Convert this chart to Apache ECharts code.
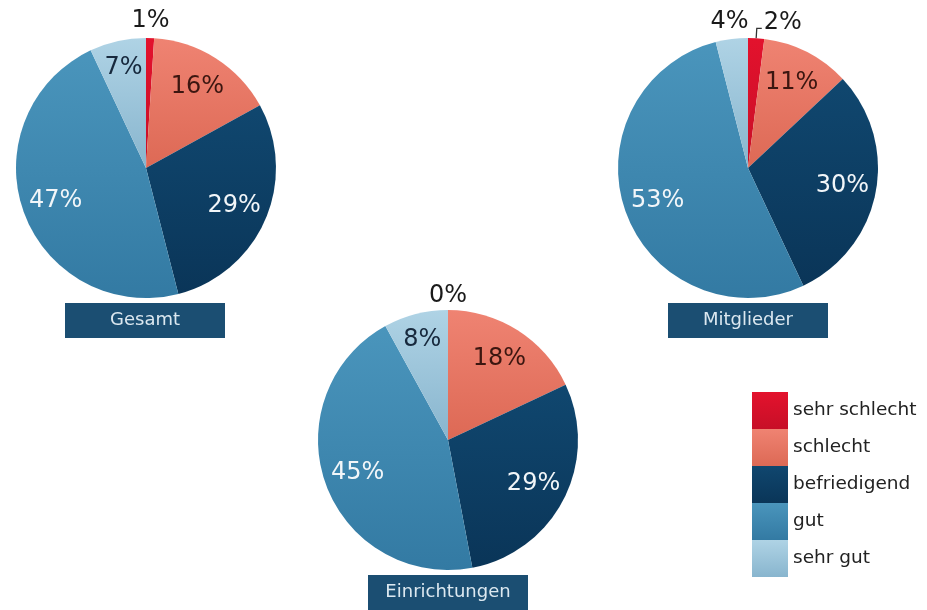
<!DOCTYPE html>
<html>
<head>
<meta charset="utf-8">
<script src="https://cdn.jsdelivr.net/npm/echarts@6/dist/echarts.min.js"></script>
<style>
html,body{margin:0;padding:0;background:#fff;}
#chart{width:927px;height:610px;}
</style>
</head>
<body>
<div id="chart"></div>
<script>
// ---- data ----
const categories = ['sehr schlecht', 'schlecht', 'befriedigend', 'gut', 'sehr gut'];
const gesamt = [1, 16, 29, 47, 7];
const mitglieder = [2, 11, 30, 53, 4];
const einrichtungen = [0, 18, 29, 45, 8];
const pieNames = ['Gesamt', 'Mitglieder', 'Einrichtungen'];

// ---- layout / style ----
const FONT = 'DejaVu Sans';
const R = 130;
const pies = [
  { values: gesamt,        center: [146, 168], title: [65, 303],  inner: [1, 2, 3], far: [4], outer: [0], leader: [], outerR: 158 },
  { values: mitglieder,    center: [748, 168], title: [668, 303], inner: [1, 2, 3], far: [],  outer: [4], leader: [0], outerR: 158 },
  { values: einrichtungen, center: [448, 440], title: [368, 575], inner: [1, 2, 3], far: [4], outer: [0], leader: [], outerR: 152 }
];
const gradStops = [
  ['#e3122d', '#c70f27'],
  ['#ef8372', '#dd6955'],
  ['#10476f', '#0a3558'],
  ['#4a95bc', '#337aa3'],
  ['#afd3e5', '#88b5ce']
];
const labelColors = ['#1a1a1a', '#3b1610', '#f2f6f9', '#f2f6f9', '#17293d'];
function grad(i) {
  return { type: 'linear', x: 0, y: 0, x2: 0, y2: 1,
    colorStops: [{ offset: 0, color: gradStops[i][0] }, { offset: 1, color: gradStops[i][1] }] };
}

const series = [];
// main pies
pies.forEach(p => {
  series.push({
    type: 'pie', center: p.center, radius: [0, R], startAngle: 90,
    animation: false, silent: true, avoidLabelOverlap: false,
    emphasis: { disabled: true },
    data: p.values.map((v, i) => {
      const isLeader = p.leader.includes(i);
      return {
        name: categories[i], value: v,
        itemStyle: { color: grad(i) },
        label: isLeader ? {
          show: true, position: 'outside', formatter: '{v|{c}%}\n{e| }',
          distanceToLabelLine: 2,
          rich: {
            v: { fontSize: 24, fontFamily: FONT, color: '#1a1a1a', lineHeight: 26 },
            e: { fontSize: 8, lineHeight: 12 }
          }
        } : { show: false },
        labelLine: isLeader ? { show: true, length: 10, length2: 5, smooth: false,
          lineStyle: { color: '#333', width: 1.3 } } : { show: false }
      };
    })
  });
});
// label rings (transparent), placing value labels
function ring(p, radius, show, colorFor) {
  return {
    type: 'pie', center: p.center, radius: radius, startAngle: 90,
    animation: false, silent: true, avoidLabelOverlap: false,
    emphasis: { disabled: true },
    labelLine: { show: false },
    data: p.values.map((v, i) => ({
      name: categories[i], value: v,
      itemStyle: { color: 'rgba(0,0,0,0)' },
      label: {
        show: show.includes(i), position: 'inside', formatter: '{c}%',
        fontSize: 24, fontFamily: FONT, color: colorFor(i)
      }
    }))
  };
}
pies.forEach(p => {
  series.push(ring(p, [56, R], p.inner, i => labelColors[i]));
  series.push(ring(p, [70, R], p.far, i => labelColors[i]));
  series.push(ring(p, [R, p.outerR], p.outer, () => '#1a1a1a'));
});

const option = {
  backgroundColor: '#ffffff',
  title: pies.map((p, k) => ({
    text: '{b|' + pieNames[k] + '}',
    left: p.title[0], top: p.title[1], padding: 0,
    textStyle: {
      fontWeight: 'normal',
      rich: {
        b: { width: 160, height: 35, lineHeight: 35, align: 'center', fontWeight: 'normal',
          backgroundColor: '#1b4e72', color: '#dce8f0', fontSize: 18, fontFamily: FONT }
      }
    }
  })),
  legend: {
    orient: 'vertical', left: 752, top: 392, padding: 0,
    itemWidth: 36, itemHeight: 37, itemGap: 0, icon: 'rect',
    selectedMode: false, data: categories,
    textStyle: { fontSize: 18.5, color: '#222', fontFamily: FONT }
  },
  series: series
};

const chart = echarts.init(document.getElementById('chart'), null, { renderer: 'canvas' });
chart.setOption(option);
</script>
</body>
</html>
